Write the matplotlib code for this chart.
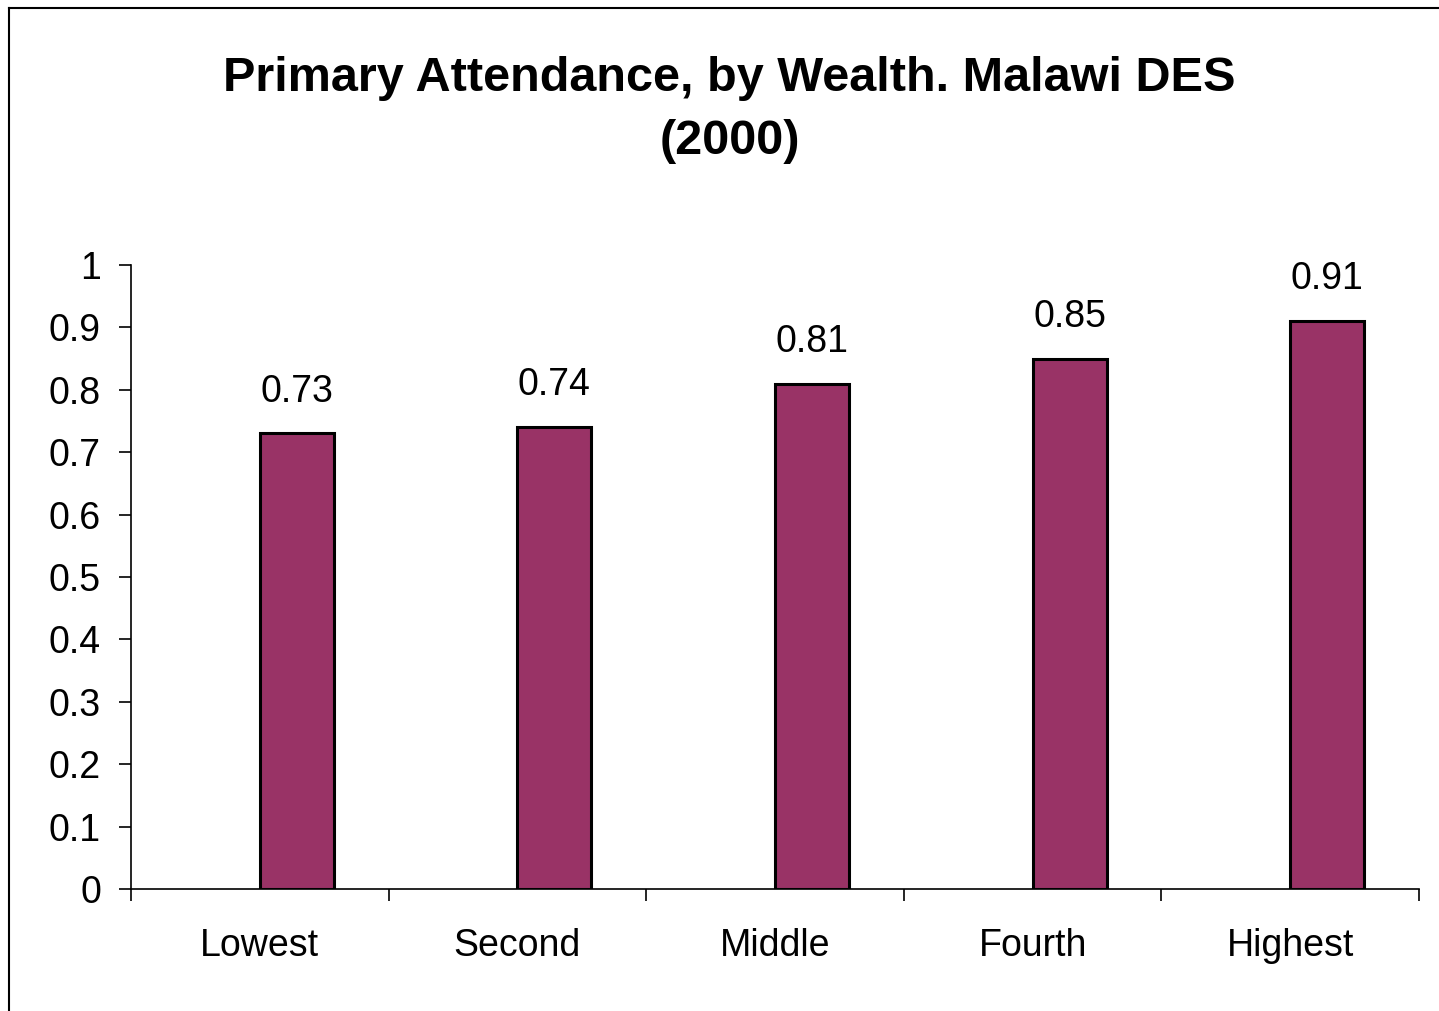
import numpy as np
import matplotlib.pyplot as plt
from matplotlib.lines import Line2D

plt.rcParams['font.family'] = ['Liberation Sans', 'DejaVu Sans']

categories = ['Lowest', 'Second', 'Middle', 'Fourth', 'Highest']
attendance = [0.73, 0.74, 0.81, 0.85, 0.91]
value_labels = ['0.73', '0.74', '0.81', '0.85', '0.91']
y_ticks = [0, 0.1, 0.2, 0.3, 0.4, 0.5, 0.6, 0.7, 0.8, 0.9, 1]
y_tick_labels = ['0', '0.1', '0.2', '0.3', '0.4', '0.5', '0.6', '0.7', '0.8', '0.9', '1']

bar_color = '#993366'

fig = plt.figure(figsize=(14.39, 10.11), dpi=100)
ax = fig.add_axes([0.0910, 0.1207, 0.8951, 0.6172])

x = np.arange(len(categories))
bars = ax.bar(x, attendance, width=0.287, align='edge', color=bar_color,
              edgecolor='black', linewidth=2.2, zorder=3)

for b, lab in zip(bars, value_labels):
    ax.annotate(lab, (b.get_x() + b.get_width() / 2, b.get_height()),
                xytext=(0, 23), textcoords='offset points',
                ha='center', va='baseline', fontsize=27)

ax.set_xlim(-0.5, len(categories) - 0.5)
ax.set_ylim(0, 1)
ax.set_yticks(y_ticks)
ax.set_yticklabels(y_tick_labels, fontsize=27)
ax.tick_params(axis='y', direction='out', length=8.6, width=1.2, pad=13)

# category boundaries as major ticks, labels on minor ticks
ax.set_xticks(np.arange(len(categories) + 1) - 0.5)
ax.set_xticklabels([])
ax.set_xticks(x, minor=True)
ax.set_xticklabels(categories, minor=True, fontsize=27)
ax.tick_params(axis='x', which='major', direction='out', length=8.6, width=1.2)
ax.tick_params(axis='x', which='minor', length=0, pad=28)

for s in ['top', 'right']:
    ax.spines[s].set_visible(False)
for s in ['left', 'bottom']:
    ax.spines[s].set_linewidth(1.2)

fig.text(0.507, 1 - 91 / 1011, 'Primary Attendance, by Wealth. Malawi DES',
         ha='center', va='baseline', fontsize=35, fontweight='bold')
fig.text(0.507, 1 - 154 / 1011, '(2000)',
         ha='center', va='baseline', fontsize=35, fontweight='bold')

# outer frame (left and top edges only)
fig.add_artist(Line2D([9 / 1439, 9 / 1439], [0, 1 - 8 / 1011],
                      transform=fig.transFigure, color='black', linewidth=1.5))
fig.add_artist(Line2D([9 / 1439, 1], [1 - 8 / 1011, 1 - 8 / 1011],
                      transform=fig.transFigure, color='black', linewidth=1.5))

fig.savefig('out.png', dpi=100)
